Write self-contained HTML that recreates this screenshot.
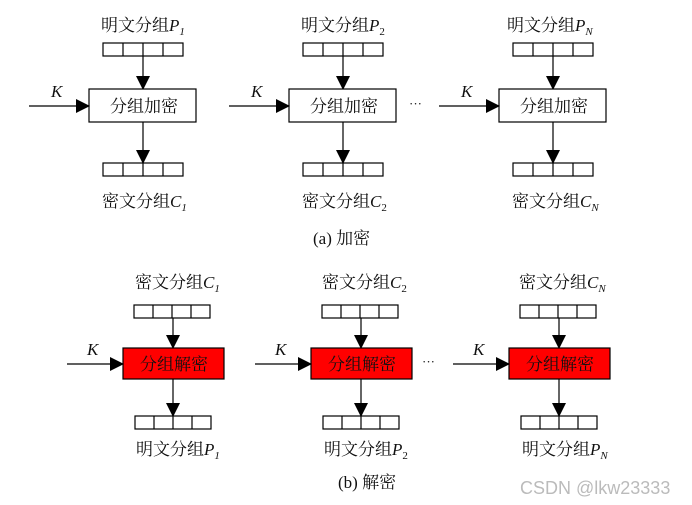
<!DOCTYPE html>
<html><head><meta charset="utf-8"><style>
html,body{margin:0;padding:0;background:#fff;}
svg{display:block}
text{font-family:"Liberation Serif","Noto Serif CJK SC","Noto Sans CJK SC",serif;fill:#111;}
.l{font-size:17px;}
.i{font-style:italic;}
</style></head><body>
<svg width="692" height="505" viewBox="0 0 692 505" xmlns="http://www.w3.org/2000/svg">
<defs>
<marker id="a" markerWidth="10" markerHeight="10" refX="9" refY="5" orient="auto" markerUnits="userSpaceOnUse">
<path d="M0,0 L10,5 L0,10 Z" fill="#000"/></marker>
<marker id="d" markerWidth="14" markerHeight="14" refX="13" refY="7" orient="auto" markerUnits="userSpaceOnUse">
<path d="M0,0 L14,7 L0,14 Z" fill="#000"/></marker>
</defs>
<g stroke="#000" stroke-width="1.2" fill="none">
<!-- top units -->
<g id="t1">
<rect x="103" y="43" width="80" height="13"/><line x1="123" y1="43" x2="123" y2="56"/><line x1="143" y1="43" x2="143" y2="56"/><line x1="163" y1="43" x2="163" y2="56"/>
<line x1="143" y1="56" x2="143" y2="89" marker-end="url(#d)"/>
<rect x="89" y="89" width="107" height="33" fill="#fff"/>
<line x1="143" y1="122" x2="143" y2="163" marker-end="url(#d)"/>
<rect x="103" y="163" width="80" height="13"/><line x1="123" y1="163" x2="123" y2="176"/><line x1="143" y1="163" x2="143" y2="176"/><line x1="163" y1="163" x2="163" y2="176"/>
<line x1="29" y1="106" x2="89" y2="106" marker-end="url(#d)"/>
</g>
<use href="#t1" x="200"/>
<use href="#t1" x="410"/>
<!-- bottom units -->
<g id="b1">
<rect x="134" y="305" width="76" height="13"/><line x1="153" y1="305" x2="153" y2="318"/><line x1="172" y1="305" x2="172" y2="318"/><line x1="191" y1="305" x2="191" y2="318"/>
<line x1="173" y1="318" x2="173" y2="348" marker-end="url(#d)"/>
<rect x="123" y="348" width="101" height="31" fill="#f00"/>
<line x1="173" y1="379" x2="173" y2="416" marker-end="url(#d)"/>
<rect x="135" y="416" width="76" height="13"/><line x1="154" y1="416" x2="154" y2="429"/><line x1="173" y1="416" x2="173" y2="429"/><line x1="192" y1="416" x2="192" y2="429"/>
<line x1="67" y1="364" x2="123" y2="364" marker-end="url(#d)"/>
</g>
<use href="#b1" x="188"/>
<use href="#b1" x="386"/>
</g>
<!-- top labels -->
<g class="l">
<text x="101" y="31">明文分组<tspan class="i">P</tspan><tspan class="i" font-size="11" dy="4">1</tspan></text>
<text x="301" y="31">明文分组<tspan class="i">P</tspan><tspan font-size="11" dy="4">2</tspan></text>
<text x="507" y="31">明文分组<tspan class="i">P</tspan><tspan class="i" font-size="11" dy="4">N</tspan></text>
<text x="110" y="112">分组加密</text>
<text x="310" y="112">分组加密</text>
<text x="520" y="112">分组加密</text>
<text x="51" y="97" class="i">K</text>
<text x="251" y="97" class="i">K</text>
<text x="461" y="97" class="i">K</text>
<text x="409" y="108" font-size="13">···</text>
<text x="102" y="207">密文分组<tspan class="i">C</tspan><tspan class="i" font-size="11" dy="4">1</tspan></text>
<text x="302" y="207">密文分组<tspan class="i">C</tspan><tspan font-size="11" dy="4">2</tspan></text>
<text x="512" y="207">密文分组<tspan class="i">C</tspan><tspan class="i" font-size="11" dy="4">N</tspan></text>
<text x="313" y="244">(a) 加密</text>
<!-- bottom labels -->
<text x="135" y="288">密文分组<tspan class="i">C</tspan><tspan class="i" font-size="11" dy="4">1</tspan></text>
<text x="322" y="288">密文分组<tspan class="i">C</tspan><tspan font-size="11" dy="4">2</tspan></text>
<text x="519" y="288">密文分组<tspan class="i">C</tspan><tspan class="i" font-size="11" dy="4">N</tspan></text>
<text x="140" y="370">分组解密</text>
<text x="328" y="370">分组解密</text>
<text x="526" y="370">分组解密</text>
<text x="87" y="355" class="i">K</text>
<text x="275" y="355" class="i">K</text>
<text x="473" y="355" class="i">K</text>
<text x="422" y="366" font-size="13">···</text>
<text x="136" y="455">明文分组<tspan class="i">P</tspan><tspan class="i" font-size="11" dy="4">1</tspan></text>
<text x="324" y="455">明文分组<tspan class="i">P</tspan><tspan font-size="11" dy="4">2</tspan></text>
<text x="522" y="455">明文分组<tspan class="i">P</tspan><tspan class="i" font-size="11" dy="4">N</tspan></text>
<text x="338" y="488">(b) 解密</text>
</g>
<text x="520" y="494" font-family="Liberation Sans, sans-serif" font-size="18" style="fill:#bbb;font-family:'Liberation Sans',sans-serif">CSDN @lkw23333</text>
</svg>
</body></html>
